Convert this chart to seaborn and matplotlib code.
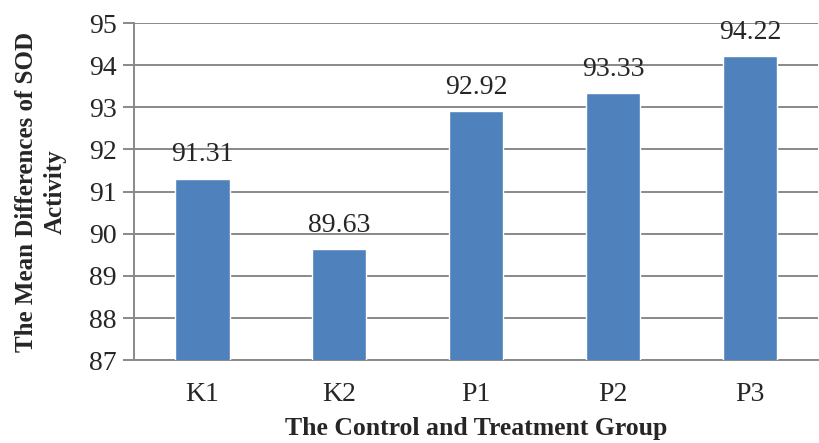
import matplotlib
matplotlib.use('Agg')
import matplotlib.pyplot as plt
import seaborn as sns
import pandas as pd

groups = ['K1', 'K2', 'P1', 'P2', 'P3']
sod_means = [91.31, 89.63, 92.92, 93.33, 94.22]
y_ticks = [87, 88, 89, 90, 91, 92, 93, 94, 95]

sns.set_style('white')
plt.rcParams['font.family'] = ['Liberation Serif', 'DejaVu Serif']

data = pd.DataFrame({'group': groups, 'mean': sod_means})

fig = plt.figure(figsize=(8.2, 4.43), dpi=100)
ax = fig.add_axes([0.163, 0.187, 0.835, 0.761])
sns.barplot(data=data, x='group', y='mean', color='#4F81BD', saturation=1,
            width=0.4, ax=ax, zorder=3)
ax.set_ylim(87, 95)
ax.set_yticks(y_ticks)
ax.grid(axis='y', color='#898989', linewidth=1.4, zorder=0)
ax.set_axisbelow(True)
for side in ['top', 'right']:
    ax.spines[side].set_visible(False)
for side in ['left', 'bottom']:
    ax.spines[side].set_color('#898989')
    ax.spines[side].set_linewidth(1.4)
ax.tick_params(axis='y', length=8, width=1.4, color='#898989', labelsize=20, pad=4,
               direction='out', left=True)
ax.tick_params(axis='x', length=0, labelsize=20, pad=16)
for bar, value in zip(ax.patches, sod_means):
    ax.annotate('{:.2f}'.format(value), (bar.get_x() + bar.get_width() / 2, value),
                xytext=(0, 8), textcoords='offset points', ha='center', va='bottom',
                fontsize=20)
ax.set_xlabel('The Control and Treatment Group', fontsize=18.5, fontweight='bold', labelpad=7)
ax.set_ylabel('The Mean Differences of SOD\nActivity', fontsize=18, fontweight='bold',
              labelpad=16, linespacing=1.35)
fig.savefig('out.png', dpi=100)
